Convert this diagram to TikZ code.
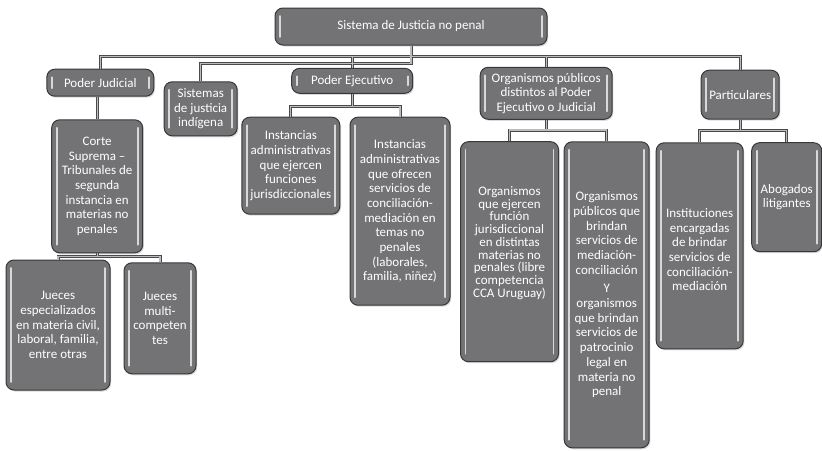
\documentclass[tikz,border=0pt]{standalone}
\usepackage{fontspec}
\setmainfont{Carlito}
\usetikzlibrary{calc,shadows}

\definecolor{boxfill}{HTML}{737376}
\definecolor{boxedge}{HTML}{38383A}
\definecolor{shine}{HTML}{D8D8DA}
\definecolor{pipeedge}{HTML}{4A4A4C}
\definecolor{pipefill}{HTML}{BCBCBE}

\tikzset{
  box/.style={draw=boxedge, fill=boxfill, rounded corners=8pt, line width=1pt,
    text=white, align=center, inner sep=0pt,
    font=\fontsize{13}{14.7}\selectfont,
    drop shadow={shadow xshift=1.2pt, shadow yshift=-1.5pt, opacity=0.3},
    path picture={
      \draw[shine, line width=1.6pt, line cap=round]
        ([xshift=5pt,yshift=-8pt]path picture bounding box.north west) --
        ([xshift=5pt,yshift=8pt]path picture bounding box.south west);
      \draw[shine, line width=1.6pt, line cap=round]
        ([xshift=-5pt,yshift=-8pt]path picture bounding box.north east) --
        ([xshift=-5pt,yshift=8pt]path picture bounding box.south east);
    }},
}

\begin{document}
\begin{tikzpicture}[x=1pt,y=-1pt]
  \useasboundingbox (0,0) rectangle (822,450);

  % first level
  \node[box, minimum width=272, minimum height=37] (top) at (411,26.5) {Sistema de Justicia no penal};
  \node[box, minimum width=107, minimum height=27] (pj) at (100.3,82.7) {Poder Judicial};
  \node[box, minimum width=73, minimum height=54] (sist) at (200.7,108.8) {Sistemas\\de justicia\\indígena};
  \node[box, minimum width=121, minimum height=25] (pe) at (352.2,80.8) {Poder Ejecutivo};
  \node[box, minimum width=132, minimum height=52] (org) at (546.2,93.3) {Organismos públicos\\distintos al Poder\\Ejecutivo o Judicial};
  \node[box, minimum width=78, minimum height=49] (part) at (740.2,94.7) {Particulares};

  % second level
  \node[box, minimum width=91, minimum height=133] (corte) at (97.2,186.3)
    {Corte\\Suprema --\\Tribunales de\\segunda\\instancia en\\materias no\\penales};
  \node[box, minimum width=98, minimum height=97] (inst1) at (290.8,165.7)
    {Instancias\\administrativas\\que ejercen\\funciones\\jurisdiccionales};
  \node[box, minimum width=100, minimum height=188] (inst2) at (400,211.2)
    {Instancias\\administrativas\\que ofrecen\\servicios de\\conciliación-\\mediación en\\temas no\\penales\\(laborales,\\familia, niñez)};
  \node[box, minimum width=98, minimum height=220, font=\fontsize{13}{12.7}\selectfont] (org1) at (509.5,251.7)
    {Organismos\\que ejercen\\función\\jurisdiccional\\en distintas\\materias no\\penales (libre\\competencia\\CCA Uruguay)\\[7pt]};
  \node[box, minimum width=85, minimum height=306] (org2) at (606.7,294.8)
    {Organismos\\públicos que\\brindan\\servicios de\\mediación-\\conciliación\\[4pt]Y\\organismos\\que brindan\\servicios de\\patrocinio\\legal en\\materia no\\penal};
  \node[box, minimum width=87, minimum height=206] (inst3) at (699.7,245.8)
    {\\[2pt]Instituciones\\encargadas\\de brindar\\servicios de\\conciliación-\\mediación};
  \node[box, minimum width=70, minimum height=109] (abog) at (786.7,197.2) {Abogados\\litigantes};

  % third level
  \node[box, minimum width=104, minimum height=130] (jesp) at (58,325)
    {Jueces\\especializados\\en materia civil,\\laboral, familia,\\entre otras};
  \node[box, minimum width=72, minimum height=111] (jmul) at (160,318.3)
    {Jueces\\multi-\\competen\\tes};

  % bus heights
  \coordinate (mainbus) at (0,56.7);
  \coordinate (sidebus) at (0,63.3);
  \coordinate (pebus) at (0,106.7);
  \coordinate (orgbus) at (0,130);
  \coordinate (partbus) at (0,130.7);
  \coordinate (cortebus) at (0,256.7);

  % connectors, drawn twice for the pipe look
  \foreach \lw/\lc in {3pt/pipeedge, 1.1pt/pipefill} {
    \draw[line width=\lw, \lc] (pj.north) |- (mainbus -| part.north) -- (part.north);
    \draw[line width=\lw, \lc] (top.south) -- (sidebus -| top.south) -| (sist.north);
    \draw[line width=\lw, \lc] (pe.north) -- (pe.north |- mainbus);
    \draw[line width=\lw, \lc] (org.north) -- (org.north |- mainbus);
    \draw[line width=\lw, \lc] (corte.north |- pj.south) -- (corte.north);
    \draw[line width=\lw, \lc] (corte.south) -- (corte.south |- cortebus);
    \draw[line width=\lw, \lc] (jesp.north) |- (cortebus -| jmul.north) -- (jmul.north);
    \draw[line width=\lw, \lc] (pe.south) -- (pe.south |- pebus);
    \draw[line width=\lw, \lc] (inst1.north) |- (pebus -| inst2.north) -- (inst2.north);
    \draw[line width=\lw, \lc] (org.south) -- (org.south |- orgbus);
    \draw[line width=\lw, \lc] (org1.north) |- (orgbus -| org2.north) -- (org2.north);
    \draw[line width=\lw, \lc] (part.south) -- (part.south |- partbus);
    \draw[line width=\lw, \lc] (inst3.north) |- (partbus -| abog.north) -- (abog.north);
  }
\end{tikzpicture}
\end{document}
